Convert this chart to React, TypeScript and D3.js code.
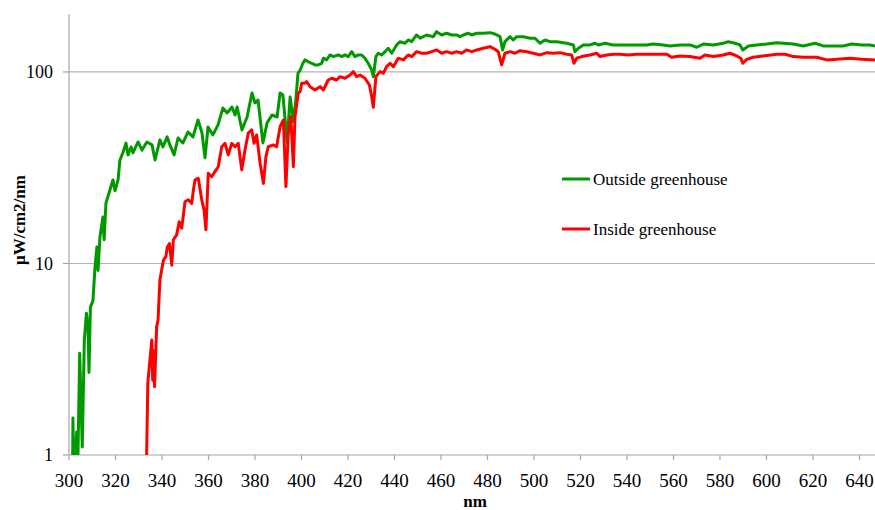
import { scaleLinear, scaleLog, line, range } from "d3";

// Outside greenhouse spectrum (nm, µW/cm2/nm)
const outsideNm = [
  301.5, 301.7, 302.1, 303.3, 303.8, 304.6, 305.7, 306.6, 307.5, 308.2, 308.6, 309.2, 310.3, 311.2, 312.0,
  312.5, 313.3, 314.6, 315.1, 315.9, 317.6, 318.9, 319.8, 321.1, 321.9, 323.2, 324.5, 325.4, 326.7, 327.5,
  329.7, 331.4, 333.5, 335.7, 337.0, 339.1, 340.4, 342.2, 343.4, 345.2, 346.9, 349.0, 351.2, 353.3, 355.5,
  357.2, 358.5, 359.8, 361.9, 364.1, 366.2, 368.0, 370.1, 371.4, 372.3, 374.4, 376.6, 378.7, 380.0, 381.3,
  383.4, 385.2, 387.3, 389.5, 390.8, 392.0, 393.8, 395.1, 396.5, 397.5, 398.5, 399.4, 400.6, 401.5, 402.8,
  404.4, 405.8, 407.2, 408.7, 409.4, 410.8, 412.3, 413.7, 415.8, 417.3, 418.7, 420.1, 421.6, 423.0, 424.4,
  425.9, 427.3, 428.7, 430.2, 430.9, 432.0, 433.0, 434.5, 435.9, 437.3, 438.8, 440.9, 442.4, 444.5, 445.9,
  447.4, 449.5, 451.0, 453.8, 456.7, 458.1, 460.3, 462.4, 464.6, 466.7, 468.2, 469.6, 471.7, 473.2, 475.4,
  478.2, 481.1, 483.2, 485.4, 486.5, 487.5, 489.7, 491.1, 492.6, 495.4, 498.3, 500.4, 502.6, 504.7, 506.9,
  509.8, 514.1, 516.9, 517.6, 519.1, 521.2, 524.1, 526.2, 527.7, 530.5, 534.1, 537.0, 539.9, 544.2, 548.5,
  551.3, 555.6, 558.5, 562.8, 567.1, 570.0, 572.8, 577.1, 581.4, 583.6, 586.5, 588.6, 589.8, 592.2, 595.8,
  600.1, 604.4, 607.2, 611.5, 615.8, 620.9, 624.4, 628.7, 633.0, 636.6, 640.9, 644.5, 646.7,
];
const outsideVal = [
  0.7, 1.56, 0.7, 1.32, 0.9, 3.4, 1.1, 4.0, 5.5, 4.5, 2.7, 5.9, 6.4, 9.6, 12.2,
  9.2, 13.7, 17.5, 13.3, 20.7, 24.2, 27.3, 24.0, 27.3, 34.6, 38.0, 42.5, 36.9, 40.6, 37.8,
  43.1, 39.1, 43.1, 41.6, 34.7, 44.2, 40.6, 45.8, 41.6, 36.9, 45.2, 42.6, 48.6, 45.8, 56.1,
  48.0, 35.6, 51.6, 46.9, 52.9, 64.9, 61.1, 65.6, 59.6, 65.6, 49.8, 58.2, 77.6, 68.9, 71.4,
  42.6, 54.2, 59.6, 58.2, 77.6, 75.8, 43.0, 74.0, 55.0, 70.0, 98.5, 102, 111, 115.6, 113.2,
  111, 108.8, 108.8, 111, 118, 115.6, 122.7, 120.3, 122.7, 120.3, 122.7, 120.3, 127.6, 120.3, 122.7,
  122.7, 118, 111, 102.4, 94.5, 120.3, 125.2, 122.7, 127.6, 133, 125.2, 138.4, 143.9, 141.2, 146.9,
  143.9, 156, 150, 156, 152.8, 162.3, 156, 159.2, 156, 156, 152.8, 156, 159.2, 156, 159.2,
  159.2, 160.4, 157.8, 152.8, 130.3, 143.9, 152.8, 146.9, 152.8, 152.8, 150, 150, 141.2, 146.9, 143.9,
  143.9, 141.2, 138.4, 127.6, 133, 138.4, 138.4, 141.2, 138.4, 141.2, 138.4, 138.4, 138.4, 138.4, 138.4,
  139.8, 138.4, 136.7, 138.4, 138.4, 134.6, 139.8, 138.4, 141.2, 143.9, 141.2, 138.4, 130.3, 136.7, 138.4,
  139.8, 142.2, 141.2, 139.8, 136.7, 141.2, 136.7, 136.7, 136.7, 139.8, 138.4, 138.4, 136.7,
];

// Inside greenhouse spectrum
const insideNm = [
  333.2, 333.4, 333.9, 335.6, 336.0, 336.4, 336.8, 337.7, 338.3, 339.1, 340.6, 341.7, 342.3, 343.2, 344.2,
  344.9, 346.3, 347.4, 348.5, 349.9, 351.3, 352.8, 353.5, 354.2, 355.6, 357.1, 358.1, 358.9, 359.9, 361.4,
  362.8, 364.2, 365.7, 367.1, 368.5, 370.0, 371.4, 372.8, 374.3, 375.7, 377.1, 378.6, 379.6, 380.7, 382.2,
  383.6, 384.7, 385.7, 387.9, 389.3, 390.8, 392.2, 393.3, 394.3, 395.4, 396.5, 397.2, 398.6, 399.4, 400.1,
  401.5, 402.2, 403.7, 405.8, 408.0, 409.4, 411.5, 413.0, 415.1, 416.6, 418.7, 420.9, 422.3, 423.7, 425.2,
  427.3, 429.2, 430.2, 430.9, 432.0, 433.8, 435.2, 436.6, 438.1, 439.5, 441.6, 443.8, 445.9, 447.4, 449.5,
  451.7, 453.8, 456.0, 458.1, 460.3, 462.4, 464.6, 466.7, 468.9, 471.0, 473.2, 475.4, 478.2, 481.1, 483.2,
  484.6, 486.1, 487.5, 489.7, 491.8, 494.0, 496.9, 499.7, 502.6, 505.5, 508.3, 511.2, 514.1, 516.2, 517.2,
  518.4, 520.5, 524.1, 527.0, 528.4, 531.3, 534.1, 537.0, 540.6, 544.2, 548.5, 552.8, 557.1, 559.2, 562.8,
  567.1, 571.4, 573.5, 577.1, 581.4, 584.3, 587.2, 588.9, 589.8, 591.5, 594.3, 598.6, 604.4, 608.0, 611.5,
  615.8, 621.6, 625.9, 630.2, 635.9, 640.9, 646.7,
];
const insideVal = [
  0.8, 1.0, 2.37, 3.98, 2.46, 3.5, 2.27, 4.68, 5.07, 8.2, 10.4, 10.9, 12.2, 12.7, 9.8,
  13.3, 14.1, 16.5, 15.3, 21.0, 21.5, 20.6, 24.2, 27.3, 27.8, 21.5, 19.0, 15.0, 29.6, 28.4,
  30.2, 32.0, 40.7, 42.4, 36.9, 42.4, 40.7, 42.4, 30.8, 39.1, 47.9, 49.8, 42.4, 46.9, 33.4,
  26.2, 36.1, 40.7, 41.6, 40.7, 51.8, 56.1, 25.2, 47.9, 58.4, 32.0, 58.4, 77.4, 78.9, 87.3,
  87.3, 89.0, 83.8, 80.5, 83.8, 80.5, 90.8, 92.7, 90.8, 94.5, 92.7, 96.4, 100.4, 94.5, 96.4,
  92.7, 85.5, 74.3, 65.4, 94.5, 100.4, 98.5, 106.6, 111, 106.6, 118, 115.6, 122.7, 120.3, 127.6,
  125.2, 125.2, 127.6, 130.3, 125.2, 127.6, 125.2, 127.6, 125.2, 130.3, 127.6, 130.3, 133, 135.5, 131.4,
  127.6, 108.8, 125.2, 127.6, 125.2, 129.2, 127.6, 125.2, 122.7, 126.1, 125.2, 126.1, 123.7, 122.7, 111,
  118, 120.3, 122.7, 125.2, 120.3, 122.7, 123.7, 123.7, 122.7, 123.7, 123.7, 123.7, 123.7, 119.3, 121.2,
  120.3, 118, 122.7, 120.3, 122.7, 125.2, 121.2, 118, 111, 116.4, 119.3, 121.2, 123.7, 123.7, 120.3,
  119.3, 119.3, 115.6, 116.4, 118, 116.4, 115.6,
];

const xTicks = range(300, 641, 20);
const yTicks = [1, 10, 100];

const seriesNames = ["Outside greenhouse", "Inside greenhouse"];
const seriesColors = ["#009900", "#ff0000"];

const W = 875;
const H = 510;
const left = 69;
const bottom = 455;
const top = 14.3;
const font = "Liberation Serif, DejaVu Serif, Times New Roman, serif";

export default function App() {
  const x = scaleLinear().domain([300, 650]).range([left, left + 350 * 2.325]);
  const y = scaleLog().domain([1, 200]).range([bottom, top]);

  const path = line<[number, number]>()
    .x((d) => x(d[0]))
    .y((d) => y(d[1]));

  const outside = outsideNm.map((n, i) => [n, outsideVal[i]] as [number, number]);
  const inside = insideNm.map((n, i) => [n, insideVal[i]] as [number, number]);

  const txt = { fontFamily: font };

  return (
    <svg
      width={W}
      height={H}
      style={{ position: "absolute", left: 0, top: 0, background: "#fff", fontFamily: font }}
    >
      <defs>
        <clipPath id="plot">
          <rect x={left} y={top} width={W - left} height={bottom - top} />
        </clipPath>
      </defs>

      {/* gridlines */}
      {yTicks.slice(1).map((t) => (
        <line key={`g${t}`} x1={left} x2={W} y1={y(t)} y2={y(t)} stroke="#b3b3b3" strokeWidth={1.2} />
      ))}

      {/* axes */}
      <line x1={left} x2={left} y1={top} y2={bottom} stroke="#a6a6a6" strokeWidth={1.2} />
      <line x1={left} x2={W} y1={bottom} y2={bottom} stroke="#a6a6a6" strokeWidth={1.2} />

      {yTicks.map((t) => (
        <g key={`y${t}`}>
          <line x1={left - 6} x2={left} y1={y(t)} y2={y(t)} stroke="#a6a6a6" strokeWidth={1.2} />
          <text x={53} y={y(t)} dy="0.35em" textAnchor="end" style={txt} fontSize={18} fill="#000">
            {t}
          </text>
        </g>
      ))}

      {xTicks.map((t) => (
        <g key={`x${t}`}>
          <line x1={x(t)} x2={x(t)} y1={bottom} y2={bottom + 5} stroke="#a6a6a6" strokeWidth={1.2} />
          <text x={x(t)} y={487} textAnchor="middle" style={txt} fontSize={19} fill="#000">
            {t}
          </text>
        </g>
      ))}

      <text x={475} y={507} textAnchor="middle" style={txt} fontSize={17} fontWeight="bold">
        nm
      </text>
      <text
        transform="translate(25,220) rotate(-90)"
        textAnchor="middle"
        style={txt}
        fontSize={17}
        fontWeight="bold"
      >
        μW/cm2/nm
      </text>

      {/* series */}
      <g clipPath="url(#plot)" fill="none" strokeWidth={3} strokeLinejoin="round">
        <path d={path(outside) ?? ""} stroke={seriesColors[0]} />
        <path d={path(inside) ?? ""} stroke={seriesColors[1]} />
      </g>

      {/* legend */}
      {seriesNames.map((name, i) => (
        <g key={name} transform={`translate(562,${179 + i * 50})`}>
          <line x1={0} x2={28} y1={0} y2={0} stroke={seriesColors[i]} strokeWidth={3} />
          <text x={31} y={0} dy="0.33em" style={txt} fontSize={17} fill="#000">
            {name}
          </text>
        </g>
      ))}
    </svg>
  );
}
